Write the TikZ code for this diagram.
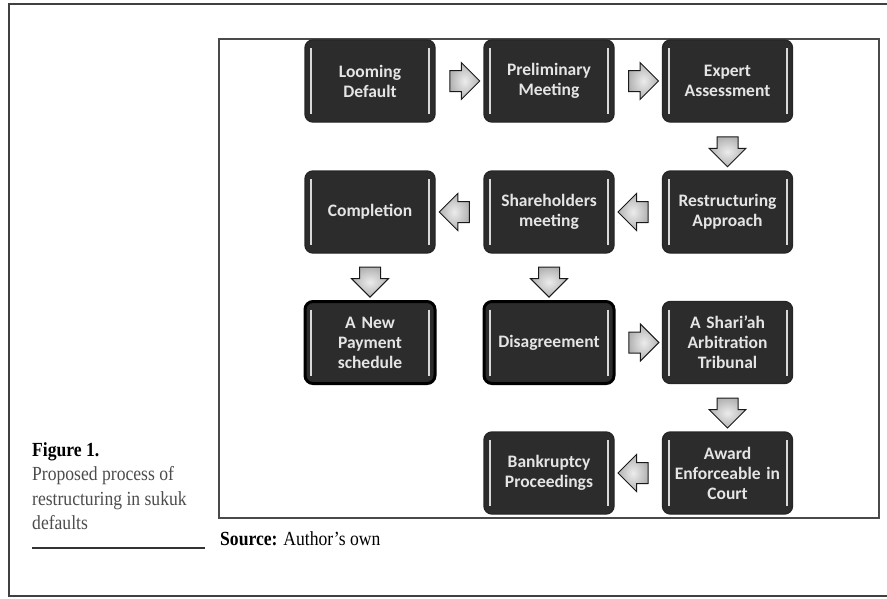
\documentclass[tikz,border=0pt]{standalone}
\usepackage{fontspec}
\setmainfont{Liberation Serif}[FakeStretch=0.88]
\newfontfamily\boxfont{Carlito}
\usetikzlibrary{shapes.arrows,calc}
\definecolor{boxfill}{HTML}{2C2C2C}
\definecolor{framegray}{HTML}{4A4A4A}
\begin{document}
\begin{tikzpicture}[x=1pt,y=-1pt,
  stepbox/.style={rounded corners=8pt, fill=boxfill, draw=black!85, line width=1.4pt,
    minimum width=130pt, minimum height=82pt, text width=124pt, align=center,
    text=white!90!black, font=\boxfont\bfseries\fontsize{17.5}{20}\selectfont, inner sep=0pt,
    path picture={
      \draw[white!85!black, line width=2pt]
        ([xshift=6pt,yshift=-8pt]path picture bounding box.north west) --
        ([xshift=6pt,yshift=8pt]path picture bounding box.south west);
      \draw[white!85!black, line width=2pt]
        ([xshift=-6pt,yshift=-8pt]path picture bounding box.north east) --
        ([xshift=-6pt,yshift=8pt]path picture bounding box.south east);
    }},
  boldbox/.style={stepbox, draw=black, line width=3pt},
  blockarr/.style={single arrow, draw=black!90, line width=1pt,
    shading=radial, inner color=gray!15, outer color=gray!60,
    minimum height=30pt, inner xsep=0pt, inner ysep=10pt,
    single arrow head extend=8pt, single arrow tip angle=90},
  rarr/.style={blockarr},
  larr/.style={blockarr, rotate=180},
  darr/.style={blockarr, rotate=-90},
  captext/.style={anchor=base west, inner sep=0pt, font=\fontsize{20}{24}\selectfont}
]
\useasboundingbox (0,0) rectangle (887,598);
% outer frame
\draw[black!75, line width=2.6pt] (895,4) -- (9,4) -- (9,596) -- (895,596);
% inner frame
\draw[framegray, line width=1.3pt] (219,39) rectangle (879,518);

% boxes
\node[stepbox] (b1) at (370,81) {Looming\\Default};
\node[stepbox] (b2) at (549,81) {Preliminary\\Meeting};
\node[stepbox] (b3) at (727.5,81) {Expert\\Assessment};
\node[stepbox] (b4) at (727.5,212) {Restructuring\\Approach};
\node[stepbox] (b5) at (549,212) {Shareholders\\meeting};
\node[stepbox] (b6) at (370,212) {Completion};
\node[boldbox] (b7) at (370,342.5) {A New\\Payment\\schedule};
\node[boldbox] (b8) at (549,342.5) {Disagreement};
\node[stepbox] (b9) at (727.5,342.5) {A Shari’ah\\Arbitration\\Tribunal};
\node[stepbox] (b10) at (727.5,473) {Award\\Enforceable in\\Court};
\node[stepbox] (b11) at (549,473) {Bankruptcy\\Proceedings};

% arrows
\node[rarr] (a1) at ($(b1.east)!0.5!(b2.west)$) {};
\node[rarr] (a2) at ($(b2.east)!0.5!(b3.west)$) {};
\node[darr] (a3) at ($(b3.south)!0.5!(b4.north)$) {};
\node[larr] (a4) at ($(b4.west)!0.5!(b5.east)$) {};
\node[larr] (a5) at ($(b5.west)!0.5!(b6.east)$) {};
\node[darr] (a6) at ($(b6.south)!0.5!(b7.north)$) {};
\node[darr] (a7) at ($(b5.south)!0.5!(b8.north)$) {};
\node[rarr] (a8) at ($(b8.east)!0.5!(b9.west)$) {};
\node[darr] (a9) at ($(b9.south)!0.5!(b10.north)$) {};
\node[larr] (a10) at ($(b10.west)!0.5!(b11.east)$) {};

% caption
\node[captext, text=black] (fig) at (32,456) {\textbf{Figure 1.}};
\node[captext, text=black!70] (c1) at (32,480) {Proposed process of};
\node[captext, text=black!70] (c2) at (32,505) {restructuring in sukuk};
\node[captext, text=black!70] (c3) at (32,529) {defaults};
\coordinate (u1) at (32,548);
\coordinate (u2) at (205,548);
\draw[black!80, line width=2pt] (u1) -- (u2);
\node[captext, text=black] (src) at (220,545) {\textbf{Source:} Author’s own};
\end{tikzpicture}
\end{document}
